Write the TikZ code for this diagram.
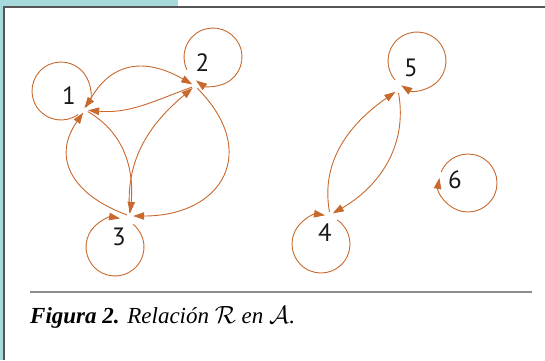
\documentclass[tikz,border=0pt]{standalone}
\usepackage{fontspec}
\newfontfamily\digitfont{PT Sans}
\newfontfamily\capfont{Liberation Serif}
\usetikzlibrary{arrows.meta}
\definecolor{edgecol}{RGB}{200,105,45}
\definecolor{tealband}{RGB}{166,218,221}
\definecolor{framegray}{RGB}{85,85,85}
\definecolor{rulegray}{RGB}{140,140,140}
\tikzset{
  vtx/.style={circle,minimum size=6pt,inner sep=0pt,draw=none},
  lbl/.style={font=\digitfont\fontsize{25}{25}\selectfont,inner sep=0pt,text=black!90},
  edge/.style={draw=edgecol,line width=0.9pt,-{Triangle[length=11pt,width=7.5pt]}},
}
\begin{document}
\begin{tikzpicture}[x=1pt,y=1pt]
\useasboundingbox (0,0) rectangle (545,360);
% frame
\fill[white] (0,0) rectangle (545,360);
\fill[tealband] (0,354) rectangle (178,360);
\fill[tealband] (0,0) rectangle (3,360);
\draw[framegray,line width=1.5pt] (3.75,0) -- (3.75,353.25) -- (545,353.25);
\draw[rulegray,line width=1.2pt] (30,68) -- (532,68);
% vertices
\node[vtx] (v1) at (85,250) {};
\node[vtx] (v2) at (195,274) {};
\node[vtx] (v3) at (130,144) {};
\node[vtx] (v4) at (330,145) {};
\node[vtx] (v5) at (398,270) {};
\node[vtx] (v6) at (440,182) {};
% loop centres
\coordinate (c1) at (61,269);
\coordinate (c2) at (213,303);
\coordinate (c3) at (115,113);
\coordinate (c4) at (321,116);
\coordinate (c5) at (417,299);
\coordinate (c6) at (468,177);
% labels
\node[lbl] (n1) at (69,264) {1};
\node[lbl] (n2) at (202.5,297) {2};
\node[lbl] (n3) at (119,123.5) {3};
\node[lbl] (n4) at (325,127) {4};
\node[lbl] (n5) at (411,292.5) {5};
\node[lbl] (n6) at (455,180) {6};
% loops
\draw[edge] ([shift={(306:29)}]c1) arc[start angle=306,end angle=-36,radius=29];
\draw[edge] ([shift={(206:29)}]c2) arc[start angle=206,end angle=-126,radius=29];
\draw[edge] ([shift={(51:29)}]c3) arc[start angle=51,end angle=-280,radius=29];
\draw[edge] ([shift={(56:29)}]c4) arc[start angle=56,end angle=-278,radius=29];
\draw[edge] ([shift={(221:29)}]c5) arc[start angle=221,end angle=-123,radius=29];
\draw[edge] ([shift={(158:29)}]c6) arc[start angle=158,end angle=-190,radius=29];
% edges
\draw[edge] (v1) to[out=65,in=150,looseness=1.25] (v2);
\draw[edge] (v2) to[out=200,in=-5] (v1);
\draw[edge] (v1) to[out=-30,in=85] (v3);
\draw[edge] (v3) to[out=160,in=235,looseness=1.3] (v1);
\draw[edge] (v3) to[out=95,in=220] (v2);
\draw[edge] (v2) to[out=-45,in=0,looseness=1.6] (v3);
\draw[edge] (v4) to[out=100,in=215] (v5);
\draw[edge] (v5) to[out=-80,in=30] (v4);
% caption
\node[anchor=base west,inner sep=0pt,font=\capfont\fontsize{23}{23}\selectfont] (cap) at (30,37)
  {\textbf{\textit{Figura 2.}} \textit{Relación} $\mathcal{R}$ \textit{en} $\mathcal{A}$.};
\end{tikzpicture}
\end{document}
